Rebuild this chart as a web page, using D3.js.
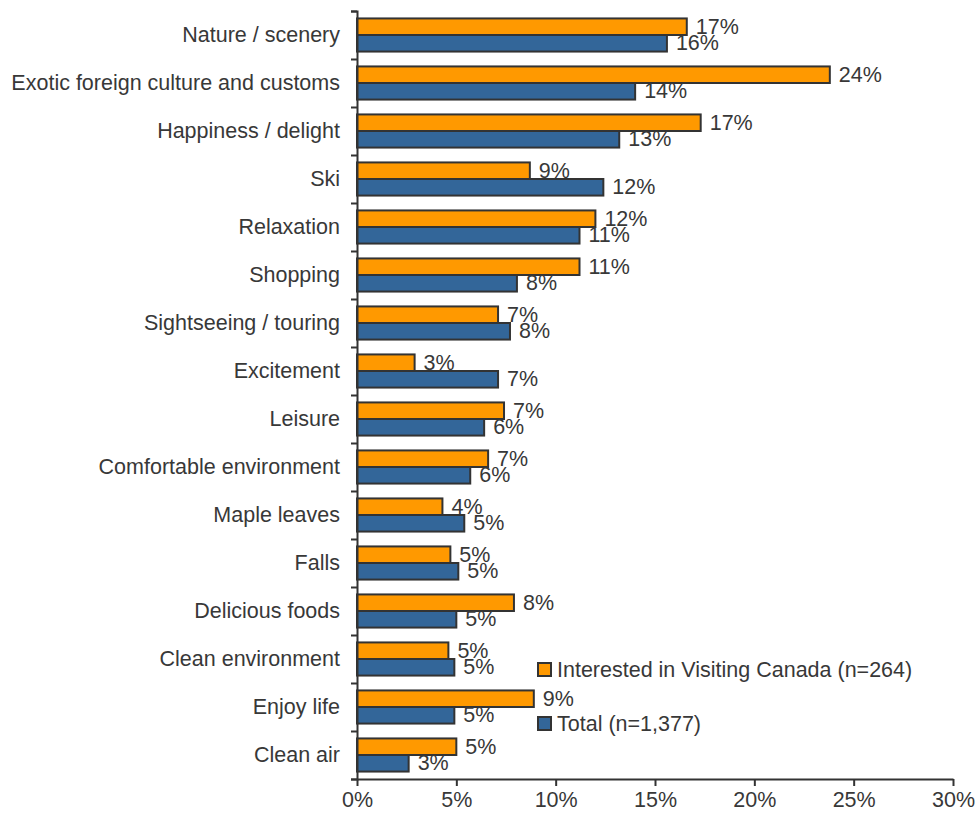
<!DOCTYPE html>
<html><head><meta charset="utf-8">
<script src="https://cdn.jsdelivr.net/npm/d3@7"></script>
<style>body{margin:0;background:#fff}text{font-family:"Liberation Sans",Arial,sans-serif;fill:#383838}</style>
</head><body><svg id="c" width="975" height="821"></svg>
<script>
const categories = ["Nature / scenery","Exotic foreign culture and customs","Happiness / delight","Ski","Relaxation","Shopping","Sightseeing / touring","Excitement","Leisure","Comfortable environment","Maple leaves","Falls","Delicious foods","Clean environment","Enjoy life","Clean air"];
const interested = [16.6,23.8,17.3,8.7,12.0,11.2,7.1,2.9,7.4,6.6,4.3,4.7,7.9,4.6,8.9,5.0];
const total = [15.6,14.0,13.2,12.4,11.2,8.05,7.7,7.1,6.4,5.7,5.4,5.1,5.0,4.9,4.9,2.6];
const xTicks = [0,5,10,15,20,25,30];
const seriesNames = ["Interested in Visiting Canada (n=264)","Total (n=1,377)"];
const colors = ["#FF9900","#336699"];

const FS = 21.5;
const svg = d3.select("#c");
const x = d3.scaleLinear().domain([0,30]).range([357,953]);
const y = d3.scaleBand().domain(categories).range([11,779]).paddingInner(0.31).paddingOuter(0.155);
const sub = d3.scaleBand().domain([0,1]).range([0,y.bandwidth()]);
const series = [interested,total];

const g = svg.append("g");
series.forEach((vals,si)=>{
  g.selectAll(".b"+si).data(categories).enter().append("rect")
    .attr("x",x(0)).attr("y",d=>y(d)+sub(si))
    .attr("width",(d,i)=>x(vals[i])-x(0)).attr("height",sub.bandwidth())
    .attr("fill",colors[si]).attr("stroke","#333").attr("stroke-width",2);
});
series.forEach((vals,si)=>{
  g.selectAll(".l"+si).data(categories).enter().append("text")
    .attr("x",(d,i)=>x(vals[i])+9).attr("y",d=>y(d)+sub(si)+sub.bandwidth()/2)
    .attr("dominant-baseline","central").attr("font-size",FS)
    .text((d,i)=>Math.round(vals[i])+"%");
});

// y axis
const ya = svg.append("g").attr("transform",`translate(${x(0)},0)`)
  .call(d3.axisLeft(d3.scalePoint().domain(d3.range(17)).range([11,779])).tickSize(6).tickFormat(""));
ya.select(".domain").attr("stroke","#333").attr("stroke-width",2);
ya.selectAll(".tick line").attr("stroke","#333").attr("stroke-width",2);
svg.selectAll(".cat").data(categories).enter().append("text")
  .attr("x",340).attr("y",d=>y(d)+y.bandwidth()/2)
  .attr("text-anchor","end").attr("dominant-baseline","central").attr("font-size",FS)
  .text(d=>d);

// x axis
const xa = svg.append("g").attr("transform","translate(0,779)")
  .call(d3.axisBottom(x).tickValues(xTicks).tickSize(7).tickSizeOuter(0).tickFormat(d=>d+"%"));
xa.select(".domain").attr("stroke","#333").attr("stroke-width",2);
xa.selectAll(".tick line").attr("stroke","#333").attr("stroke-width",2);
xa.selectAll(".tick text").attr("font-size",FS).attr("y",21).attr("dy",null)
  .attr("dominant-baseline","central")
  .style("font-family","'Liberation Sans',Arial,sans-serif").attr("fill","#383838");

// legend
const leg = svg.append("g");
seriesNames.forEach((n,i)=>{
  const ly = 670 + i*54;
  leg.append("rect").attr("x",538).attr("y",ly-7).attr("width",13).attr("height",13)
    .attr("fill",colors[i]).attr("stroke","#333").attr("stroke-width",2);
  leg.append("text").attr("x",557).attr("y",ly).attr("dominant-baseline","central")
    .attr("font-size",FS).text(n);
});
</script></body></html>
